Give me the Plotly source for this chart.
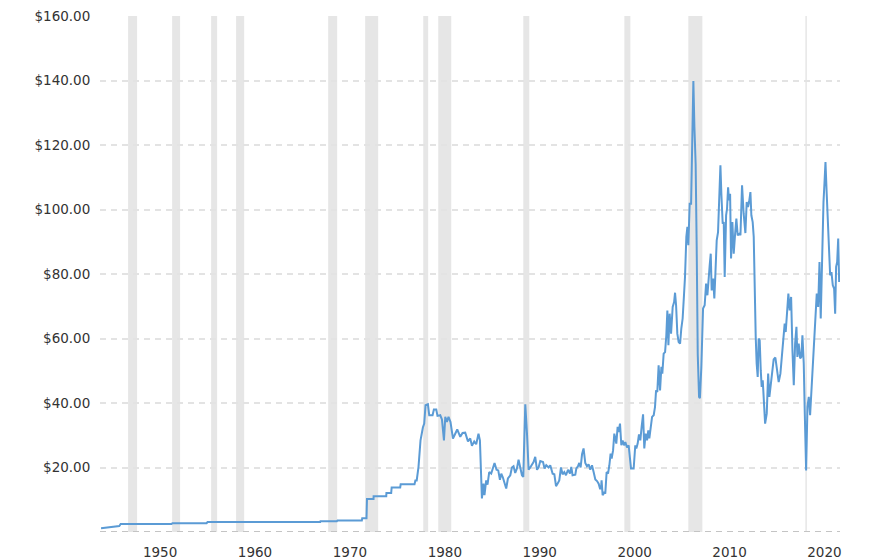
import plotly.graph_objects as go

# Shaded periods (as placed on the chart's own time axis)
band_start = [1946.63, 1951.27, 1955.38, 1958.01, 1967.71, 1971.61, 1977.73, 1979.31,
              1988.27, 1998.92, 2005.66, 2017.99]
band_end = [1947.58, 1952.11, 1956.01, 1958.86, 1968.66, 1972.98, 1978.25, 1980.68,
            1988.90, 1999.55, 2007.14, 2018.15]

years = [
    1943.78, 1944.5, 1945.2, 1945.7, 1945.85, 1951.2, 1951.3, 1954.9, 1955.0, 1957.0,
    1957.1, 1965.0, 1965.1, 1966.87, 1966.9, 1968.63, 1968.7, 1971.26, 1971.3, 1971.75,
    1971.8, 1972.49, 1972.5, 1973.83, 1973.85, 1974.35, 1974.4, 1975.3, 1975.35, 1976.81,
    1976.9, 1977.04, 1977.23, 1977.44, 1977.69, 1977.83, 1977.97, 1978.22, 1978.36, 1978.71,
    1978.85, 1979.10, 1979.23, 1979.52, 1979.70, 1979.91, 1980.05, 1980.22, 1980.39, 1980.60,
    1980.86, 1981.10, 1981.31, 1981.63, 1981.87, 1982.15, 1982.44, 1982.68, 1982.86, 1983.10,
    1983.31, 1983.55, 1983.70, 1983.91, 1984.08, 1984.18, 1984.36, 1984.50, 1984.68, 1984.89,
    1985.07, 1985.24, 1985.45, 1985.63, 1985.81, 1985.95, 1986.12, 1986.29, 1986.47, 1986.65,
    1986.90, 1987.07, 1987.24, 1987.42, 1987.60, 1987.77, 1987.95, 1988.13, 1988.27, 1988.48,
    1988.66, 1988.83, 1989.00, 1989.18, 1989.35, 1989.53, 1989.71, 1989.88, 1990.06, 1990.35,
    1990.51, 1990.69, 1990.94, 1991.11, 1991.36, 1991.54, 1991.72, 1991.89, 1992.06, 1992.24,
    1992.41, 1992.59, 1992.77, 1992.98, 1993.19, 1993.33, 1993.46, 1993.75, 1993.86, 1994.03,
    1994.17, 1994.31, 1994.46, 1994.62, 1994.80, 1994.98, 1995.15, 1995.33, 1995.51, 1995.68,
    1995.86, 1996.04, 1996.21, 1996.35, 1996.46, 1996.52, 1996.63, 1996.81, 1996.91, 1997.05,
    1997.20, 1997.34, 1997.47, 1997.58, 1997.73, 1997.86, 1997.97, 1998.07, 1998.21, 1998.32,
    1998.46, 1998.60, 1998.74, 1998.88, 1999.02, 1999.20, 1999.37, 1999.48, 1999.62, 1999.90,
    2000.07, 2000.18, 2000.32, 2000.46, 2000.60, 2000.74, 2000.89, 2001.02, 2001.16, 2001.31,
    2001.44, 2001.55, 2001.69, 2001.84, 2002.01, 2002.15, 2002.26, 2002.39, 2002.53, 2002.68,
    2002.82, 2002.92, 2003.06, 2003.21, 2003.34, 2003.45, 2003.56, 2003.69, 2003.84, 2004.01,
    2004.16, 2004.26, 2004.37, 2004.50, 2004.64, 2004.79, 2004.92, 2005.06, 2005.21, 2005.31,
    2005.45, 2005.56, 2005.66, 2005.80, 2005.95, 2006.08, 2006.19, 2006.30, 2006.43, 2006.54,
    2006.65, 2006.79, 2006.88, 2007.03, 2007.10, 2007.21, 2007.38, 2007.53, 2007.67, 2007.77,
    2007.91, 2008.02, 2008.12, 2008.27, 2008.40, 2008.51, 2008.65, 2008.79, 2008.93, 2009.04,
    2009.14, 2009.28, 2009.39, 2009.49, 2009.64, 2009.74, 2009.85, 2009.95, 2010.06, 2010.16,
    2010.30, 2010.44, 2010.59, 2010.72, 2010.86, 2011.04, 2011.15, 2011.32, 2011.49, 2011.67,
    2011.81, 2011.95, 2012.06, 2012.20, 2012.30, 2012.44, 2012.55, 2012.65, 2012.76, 2012.86,
    2012.97, 2013.07, 2013.18, 2013.29, 2013.39, 2013.50, 2013.62, 2013.75, 2013.92, 2014.07,
    2014.20, 2014.34, 2014.49, 2014.65, 2014.83, 2015.01, 2015.18, 2015.36, 2015.54, 2015.71,
    2015.81, 2015.92, 2016.07, 2016.20, 2016.34, 2016.49, 2016.63, 2016.77, 2016.91, 2017.05,
    2017.15, 2017.29, 2017.44, 2017.57, 2017.68, 2017.82, 2017.93, 2018.07, 2018.21, 2018.35,
    2018.49, 2018.63, 2018.77, 2018.91, 2019.05, 2019.19, 2019.34, 2019.48, 2019.61, 2019.76,
    2019.90, 2020.00, 2020.11, 2020.24, 2020.39, 2020.50, 2020.60, 2020.74, 2020.88, 2021.02,
    2021.13, 2021.23, 2021.34, 2021.45, 2021.55,
]

prices = [
    1.15, 1.4, 1.6, 1.85, 2.5, 2.5, 2.75, 2.75, 3.1, 3.1,
    2.95, 2.95, 3.1, 3.1, 3.35, 3.35, 3.6, 3.6, 4.3, 4.3,
    10.2, 10.2, 11.1, 11.1, 12.1, 12.1, 13.8, 13.8, 14.8, 14.8,
    16.0, 16.0, 20.2, 28.4, 32.4, 33.6, 39.3, 39.6, 36.2, 36.2,
    38.0, 38.0, 36.0, 36.2, 34.9, 28.4, 35.7, 34.1, 35.7, 34.1,
    29.0, 30.5, 31.8, 29.5, 30.7, 30.8, 28.1, 29.0, 26.7, 28.1,
    27.2, 30.5, 28.4, 10.4, 15.0, 11.4, 16.0, 14.7, 18.6, 18.1,
    19.7, 21.4, 19.3, 19.1, 16.2, 18.1, 16.9, 15.0, 13.5, 16.6,
    17.6, 20.0, 20.4, 18.3, 19.7, 22.4, 20.0, 17.6, 17.1, 39.6,
    30.5, 19.3, 20.0, 20.7, 21.7, 23.3, 19.3, 20.0, 22.0, 21.7,
    19.7, 20.7, 20.0, 20.7, 18.1, 17.9, 14.2, 15.0, 16.0, 20.0,
    17.9, 18.6, 17.6, 19.3, 18.1, 20.2, 17.6, 17.8, 19.7, 20.4,
    21.4, 20.0, 24.1, 25.9, 21.4, 20.4, 21.0, 19.3, 20.7, 18.6,
    16.3, 15.8, 15.0, 13.5, 13.5, 16.0, 11.4, 12.4, 11.9, 18.6,
    18.1, 20.7, 24.3, 22.8, 25.3, 30.5, 29.0, 27.4, 32.6, 31.0,
    33.6, 26.9, 28.4, 26.9, 27.9, 26.2, 26.9, 23.3, 19.7, 19.7,
    26.9, 25.9, 27.4, 30.3, 28.4, 32.6, 36.5, 25.9, 30.5, 28.4,
    31.5, 29.0, 32.6, 35.7, 36.2, 38.8, 43.9, 43.4, 51.7, 43.9,
    51.2, 49.1, 55.3, 55.8, 61.0, 68.7, 57.9, 67.7, 61.5, 69.8,
    71.3, 74.2, 70.3, 61.5, 58.9, 58.4, 63.1, 66.2, 73.9, 79.1,
    91.5, 94.6, 88.9, 101.8, 101.8, 122.5, 139.8, 125.6, 114.2, 88.4,
    55.3, 41.9, 41.5, 51.2, 62.0, 69.3, 70.3, 77.0, 73.4, 79.1,
    82.7, 86.3, 74.9, 78.6, 72.4, 80.1, 90.4, 93.0, 102.9, 113.7,
    104.9, 95.6, 96.1, 79.1, 98.2, 100.3, 106.9, 102.8, 104.9, 84.8,
    96.1, 86.3, 92.5, 97.2, 92.0, 92.5, 92.0, 107.5, 98.7, 92.7,
    102.3, 100.8, 102.3, 105.4, 98.2, 96.1, 91.5, 73.9, 60.5, 52.2,
    48.1, 60.0, 59.4, 50.1, 45.0, 47.0, 41.9, 33.6, 36.7, 49.1,
    41.9, 45.5, 48.1, 53.5, 54.1, 49.6, 46.5, 49.1, 55.3, 61.0,
    64.6, 62.0, 68.7, 73.9, 68.7, 72.9, 56.3, 45.5, 58.4, 63.6,
    54.3, 58.4, 53.8, 54.3, 61.0, 52.2, 36.7, 19.1, 38.8, 41.9,
    36.2, 43.9, 51.2, 61.0, 65.6, 73.9, 69.8, 83.7, 66.2, 87.3,
    102.3, 108.0, 114.7, 104.9, 92.5, 86.3, 79.6, 80.6, 76.5, 75.5,
    67.7, 82.2, 83.7, 91.0, 77.5,
]

x_tick_vals = [1950, 1960, 1970, 1980, 1990, 2000, 2010, 2020]
x_tick_text = ["1950", "1960", "1970", "1980", "1990", "2000", "2010", "2020"]
y_tick_vals = [20, 40, 60, 80, 100, 120, 140, 160]
y_tick_text = ["$20.00", "$40.00", "$60.00", "$80.00", "$100.00", "$120.00", "$140.00", "$160.00"]

fig = go.Figure()
fig.add_trace(go.Scatter(
    x=years, y=prices, mode="lines",
    line=dict(color="#5b9bd5", width=2),
    hoverinfo="skip", showlegend=False,
))

shapes = []
for s, e in zip(band_start, band_end):
    shapes.append(dict(type="rect", xref="x", yref="y", x0=s, x1=e, y0=0, y1=160,
                       fillcolor="#e6e6e6", line=dict(width=0), layer="below"))
shapes.append(dict(type="line", xref="paper", yref="y", x0=0, x1=1, y0=0, y1=0,
                   line=dict(color="#c4c4c4", width=2, dash="6px,5px"), layer="above"))

fig.update_layout(
    width=888, height=560,
    margin=dict(l=100, r=48, t=16, b=28),
    paper_bgcolor="white", plot_bgcolor="white",
    font=dict(family="Verdana, DejaVu Sans, sans-serif", size=13.5, color="#333333"),
    shapes=shapes,
    xaxis=dict(
        range=[1943.67, 2021.64], automargin=False,
        tickvals=x_tick_vals, ticktext=x_tick_text,
        showgrid=False, zeroline=False, showline=False,
        ticks="outside", ticklen=8, tickcolor="rgba(0,0,0,0)",
    ),
    yaxis=dict(
        range=[0, 160], automargin=False,
        tickvals=y_tick_vals, ticktext=y_tick_text,
        showgrid=True, gridcolor="#e3e3e3", gridwidth=2, griddash="6px,5px",
        zeroline=False, showline=False,
        ticks="outside", ticklen=6, tickcolor="rgba(0,0,0,0)",
    ),
)

fig.write_html("out.html")
